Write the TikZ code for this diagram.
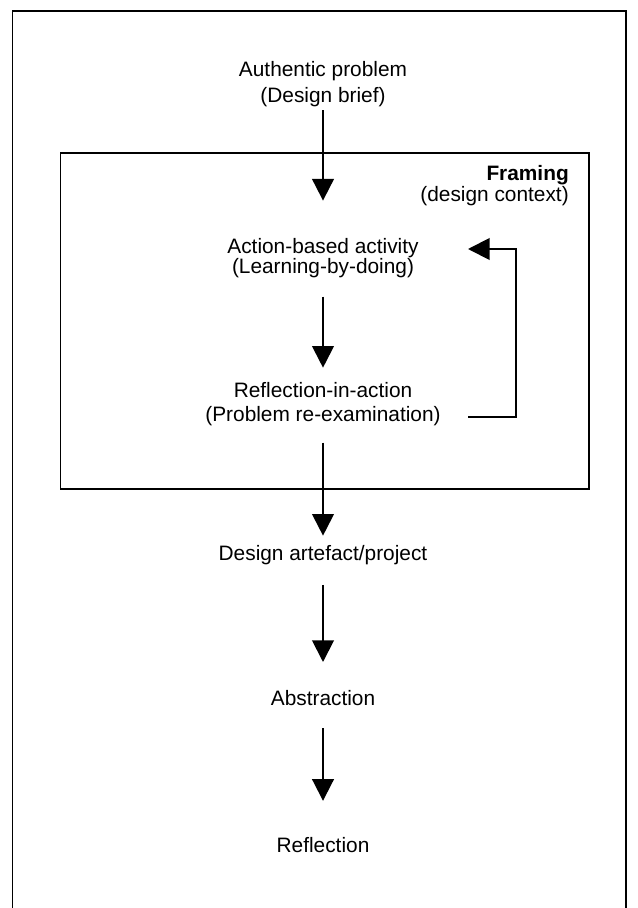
\documentclass[tikz,border=0pt]{standalone}
\usepackage{fontspec}
\setmainfont{Liberation Sans}
\usepackage{tikz}
\usetikzlibrary{arrows.meta,positioning,calc}

\begin{document}
\begin{tikzpicture}[
    x=0.03cm, y=-0.03cm,
    stage/.style={align=center, inner sep=0pt, font=\fontsize{17.8}{22}\selectfont},
    arrow/.style={-{Triangle[length=18.5pt, width=18.5pt]}, line width=1.7pt}
]
\useasboundingbox (0,0) rectangle (637,908);

% Outer frame and framing box
\draw[line width=1.2pt] (12.5,11) rectangle (626,930);
\draw[line width=0.9pt] (60.5,153) rectangle (589,489);

% Stages
\node[stage] (auth) at (323,84) {Authentic problem\\(Design brief)};
\node[stage, font=\fontsize{17.8}{17}\selectfont] (act) at (323,258) {Action-based activity\\(Learning-by-doing)};
\node[stage, font=\fontsize{17.8}{21}\selectfont] (refl) at (323,404) {Reflection-in-action\\(Problem re-examination)};
\node[stage] (artefact) at (323,555) {Design artefact/project};
\node[stage] (abstr) at (323,698) {Abstraction};
\node[stage] (final) at (323,845) {Reflection};

% Framing label
\node[stage, align=right, anchor=east, font=\fontsize{17.8}{18}\selectfont] (framing) at (569,186) {\textbf{Framing}\\(design context)};

% Arrows
\draw[arrow, shorten <=3pt, shorten >=32pt] (auth) -- (act);
\draw[arrow, shorten <=16pt, shorten >=12pt] (act) -- (refl);
\draw[arrow, shorten <=14pt, shorten >=8pt] (refl) -- (artefact);
\draw[arrow, shorten <=17pt, shorten >=24pt] (artefact) -- (abstr);
\draw[arrow, shorten <=19pt, shorten >=31pt] (abstr) -- (final);

% Feedback loop
\coordinate (fbout) at (468,417);
\coordinate (fbin) at (468,249);
\draw[arrow] (fbout) -- ++(48,0) |- (fbin);

\end{tikzpicture}
\end{document}
